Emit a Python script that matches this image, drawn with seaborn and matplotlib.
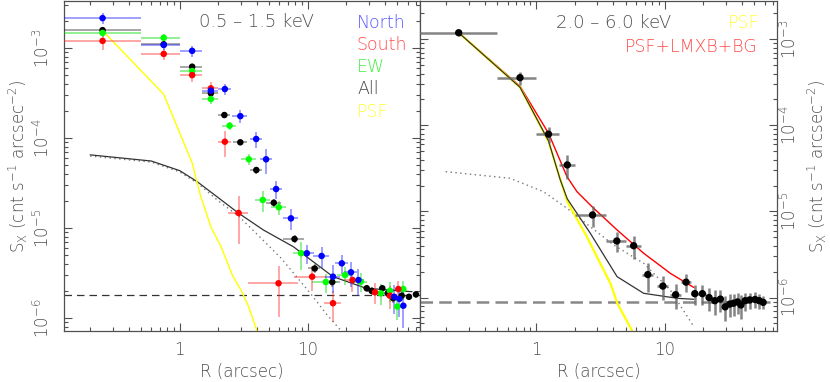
"""
Surface brightness profiles, soft band (left) and hard band (right).
Writes out.png
"""
import matplotlib
matplotlib.use("Agg")
import matplotlib.pyplot as plt
import seaborn as sns
from matplotlib.ticker import NullFormatter

sns.set_theme(style="ticks")
plt.rcParams["font.family"] = ["DejaVu Sans"]
plt.rcParams["font.weight"] = "light"
plt.rcParams["axes.labelweight"] = "light"
plt.rcParams["mathtext.fontset"] = "dejavusans"

# ---- 0.5-1.5 keV ----
r_north = [0.25, 0.75, 1.25, 1.75, 2.25, 2.97, 3.95, 4.72, 5.65, 7.38, 9.82, 12.8, 15.7, 18.4, 21.7, 24.8, 47.2, 51.7, 55.6]
sx_north = [2.15e-3, 1.08e-3, 9.3e-4, 3.36e-4, 3.5e-4, 1.75e-4, 9.75e-5, 5.8e-5, 2.71e-5, 1.28e-5, 5.24e-6,
            4.89e-6, 2.88e-6, 4.05e-6, 3.22e-6, 2.64e-6, 1.72e-6, 1.63e-6, 1.37e-6]
rerr_north = [0.25, 0.25, 0.25, 0.25, 0.25, 0.4, 0.4, 0.5, 0.6, 1.0, 1.3, 1.8, 2.0, 2.2, 2.5, 2.5, 3, 3, 3]
sxerr_north = [3e-4, 1.3e-4, 1.3e-4, 5e-5, 5e-5, 3e-5, 2e-5, 1.8e-5, 6e-6, 3.3e-6, 1.3e-6, 1.3e-6, 1.0e-6,
               1.0e-6, 1.0e-6, 0.9e-6, 0.6e-6, 0.6e-6, 0.6e-6]

r_south = [0.25, 0.75, 1.25, 1.75, 2.25, 2.88, 5.9, 10.8, 15.7, 22.3, 33.4, 43.7, 50.8]
sx_south = [1.2e-3, 8.6e-4, 5.0e-4, 3.56e-4, 9.1e-5, 1.47e-5, 2.43e-6, 2.88e-6, 1.46e-6, 2.64e-6, 1.93e-6, 1.77e-6, 2.10e-6]
rerr_south = [0.25, 0.25, 0.25, 0.25, 0.25, 0.5, 2.5, 3.0, 2.4, 3.0, 3.0, 3.0, 3.0]
sxerr_south = [2.5e-4, 1.2e-4, 0.8e-4, 0.6e-4, 3e-5, 8e-6, 1.4e-6, 0.9e-6, 0.55e-6, 0.7e-6, 0.5e-6, 0.5e-6, 0.5e-6]

r_ew = [0.25, 0.75, 1.25, 1.75, 2.45, 3.46, 4.45, 5.93, 8.87, 13.8, 19.5, 25.9, 37.0, 43.7, 49.9, 55.6]
sx_ew = [1.47e-3, 1.3e-3, 5.55e-4, 2.71e-4, 1.37e-4, 5.8e-5, 2.05e-5, 1.70e-5, 5.24e-6, 2.51e-6, 3.0e-6,
         2.53e-6, 1.88e-6, 2.01e-6, 1.34e-6, 2.10e-6]
rerr_ew = [0.25, 0.25, 0.25, 0.25, 0.3, 0.45, 0.6, 0.8, 1.2, 3.0, 2.5, 3, 3, 3, 3, 3]
sxerr_ew = [1.5e-4, 1.3e-4, 6e-5, 3e-5, 1.5e-5, 8e-6, 5.5e-6, 3e-6, 1.8e-6, 0.6e-6, 0.7e-6, 0.6e-6,
            0.5e-6, 0.5e-6, 0.4e-6, 0.5e-6]

r_all = [0.25, 0.75, 1.25, 1.75, 2.23, 2.97, 3.96, 5.42, 7.87, 11.3, 15.5, 28.8, 31.5, 38.1, 42.0, 46.4, 54.0, 61.5, 69.7]
sx_all = [1.58e-3, 1.1e-3, 6.2e-4, 3.14e-4, 1.80e-4, 8.96e-5, 4.41e-5, 1.91e-5, 7.55e-6, 3.55e-6, 2.51e-6,
          2.14e-6, 2.0e-6, 2.14e-6, 1.88e-6, 1.66e-6, 1.77e-6, 1.72e-6, 1.83e-6]
rerr_all = [0.25, 0.25, 0.25, 0.25, 0.25, 0.35, 0.45, 0.7, 1.5, 1.2, 2.2, 2, 2, 2, 2, 2, 2.5, 3, 3]
sxerr_all = [1e-4, 8e-5, 5e-5, 2.5e-5, 1.3e-5, 6e-6, 4e-6, 2e-6, 8e-7, 4e-7, 3e-7, 2e-7, 2e-7, 2e-7,
             2e-7, 2e-7, 2e-7, 1.5e-7, 1.5e-7]

r_psf_soft = [0.25, 0.75, 1.25, 1.45, 1.75, 2.1, 2.6, 3.0, 3.45, 4.1]
sx_psf_soft = [1.56e-3, 3.06e-4, 5.3e-5, 2.3e-5, 1.03e-5, 6.2e-6, 2.9e-6, 2.05e-6, 1.34e-6, 6.5e-7]

r_model_soft = [0.2, 0.6, 1.0, 1.37, 2.08, 2.88, 4.5, 7.7, 15.7, 28.5, 65]
sx_model_soft = [6.5e-5, 5.55e-5, 4.34e-5, 3.27e-5, 2.08e-5, 1.46e-5, 9.5e-6, 6.2e-6, 2.88e-6, 2.14e-6, 1.96e-6]

r_lmxb_soft = [0.2, 0.6, 1.0, 1.4, 2.0, 2.9, 4.2, 6.2, 10.4, 14.0, 18.2]
sx_lmxb_soft = [6.3e-5, 5.4e-5, 4.2e-5, 3.1e-5, 2.0e-5, 1.34e-5, 8.0e-6, 4.6e-6, 1.9e-6, 1.1e-6, 7.2e-7]

bg_soft = 1.8e-6

# ---- 2.0-6.0 keV ----
r_hard = [0.25, 0.75, 1.25, 1.75, 2.75, 4.25, 5.75, 7.41, 9.7, 12.2, 14.7, 17.2, 19.7, 22.2, 24.6, 27.2,
          29.6, 32.2, 34.4, 37.0, 39.3, 42.4, 46.0, 50.6, 54.5, 58.5]
sx_hard = [1.19e-3, 3.58e-4, 7.9e-5, 3.47e-5, 9.1e-6, 4.54e-6, 4.0e-6, 1.85e-6, 1.36e-6, 1.08e-6, 1.51e-6,
           1.11e-6, 1.11e-6, 1.0e-6, 9.2e-7, 9.6e-7, 7.8e-7, 8.4e-7, 8.6e-7, 8.9e-7, 8.2e-7, 9.2e-7, 9.4e-7,
           9.5e-7, 9.2e-7, 8.8e-7]
rerr_hard = [0.25, 0.25, 0.25, 0.25, 0.75, 0.75, 0.75, 0.75, 1.0, 1.25, 1.25, 1.25, 1.25, 1.25, 1.25, 1.25,
             1.25, 1.25, 1.25, 1.25, 1.25, 1.5, 1.5, 1.5, 1.5, 1.5]
sxerr_hard = [1.0e-4, 6e-5, 1.6e-5, 1.1e-5, 2.5e-6, 1.2e-6, 1.2e-6, 0.7e-6, 0.42e-6, 0.35e-6, 0.36e-6, 0.3e-6,
              0.3e-6, 0.3e-6, 0.3e-6, 0.28e-6, 0.25e-6, 0.25e-6, 0.25e-6, 0.25e-6, 0.25e-6, 0.22e-6, 0.2e-6,
              0.2e-6, 0.18e-6, 0.15e-6]

r_psf_hard = [0.25, 0.75, 1.25, 1.75, 2.5, 3.8, 4.3, 5.6]
sx_psf_hard = [1.19e-3, 2.77e-4, 6.5e-5, 1.3e-5, 5.0e-6, 1.45e-6, 8.5e-7, 4.1e-7]

r_psfbg_hard = [0.25, 0.75, 1.25, 1.54, 1.75, 2.64, 4.27, 6.88, 12.6, 16.9]
sx_psfbg_hard = [1.19e-3, 2.77e-4, 6.6e-5, 2.35e-5, 1.4e-5, 5.6e-6, 1.75e-6, 1.12e-6, 9.8e-7, 9.55e-7]

r_full_hard = [0.25, 0.75, 1.25, 1.74, 2.08, 2.72, 4.27, 6.88, 11.1, 16.9]
sx_full_hard = [1.19e-3, 2.85e-4, 8.1e-5, 2.54e-5, 1.7e-5, 1.14e-5, 6.1e-6, 3.27e-6, 1.91e-6, 1.31e-6]

r_lmxb_hard = [0.198, 0.626, 1.14, 1.74, 2.64, 4.02, 6.88, 11.1, 16.9]
sx_lmxb_hard = [2.9e-5, 2.43e-5, 1.70e-5, 1.09e-5, 6.65e-6, 4.08e-6, 2.5e-6, 1.22e-6, 4.6e-7]

bg_hard = 9.0e-7

YLABEL = r"S$_{\rm X}$ (cnt s$^{-1}$ arcsec$^{-2}$)"
TXT = "#505050"


def style_axis(ax, ylim, side):
    ax.set_xscale("log")
    ax.set_yscale("log")
    ax.set_xlim(0.125, 75)
    ax.set_ylim(*ylim)
    ax.set_xticks([1, 10])
    ax.set_xticklabels(["1", "10"])
    ax.xaxis.set_minor_formatter(NullFormatter())
    ax.set_yticks([1e-6, 1e-5, 1e-4, 1e-3])
    ax.set_yticklabels([r"$10^{-6}$", r"$10^{-5}$", r"$10^{-4}$", r"$10^{-3}$"],
                       rotation=90, va="center")
    ax.yaxis.set_minor_formatter(NullFormatter())
    ax.tick_params(which="both", direction="in", top=True, right=True, left=True,
                   colors=TXT, labelsize=12, width=0.8)
    ax.tick_params(which="major", length=6)
    ax.tick_params(which="minor", length=3)
    ax.tick_params(axis="x", pad=7)
    if side == "right":
        ax.tick_params(axis="y", labelleft=False, labelright=True, pad=2)
        ax.yaxis.set_label_position("right")
        ax.set_ylabel(YLABEL, color=TXT, fontsize=12, rotation=90, labelpad=4)
    else:
        ax.tick_params(axis="y", pad=8)
        ax.set_ylabel(YLABEL, color=TXT, fontsize=12, labelpad=2)
    ax.set_xlabel("R (arcsec)", color=TXT, fontsize=12, labelpad=3)
    for s in ax.spines.values():
        s.set_color(TXT)
        s.set_linewidth(0.9)


def points(ax, r, sx, rerr, sxerr, color, ecolor, ms=22, elw=1.2, ealpha=0.5):
    ax.errorbar(r, sx, xerr=rerr, yerr=sxerr, fmt="none", ecolor=ecolor,
                elinewidth=elw, alpha=ealpha, capsize=0, zorder=3)
    sns.scatterplot(x=r, y=sx, ax=ax, color=color, s=ms, edgecolor="none",
                    linewidth=0, zorder=4)


fig = plt.figure(figsize=(8.3, 3.82), dpi=100)
ax1 = fig.add_axes([64 / 830, 51 / 382, 356 / 830, 330 / 382])
ax2 = fig.add_axes([420 / 830, 51 / 382, 357 / 830, 330 / 382])
for ax in (ax1, ax2):
    ax.set_xscale("log")
    ax.set_yscale("log")

# left panel
ax1.axhline(bg_soft, color="#333333", lw=0.9, ls=(0, (6, 4)), zorder=1)
sns.lineplot(x=r_lmxb_soft, y=sx_lmxb_soft, ax=ax1, color="#777777", lw=1.0,
             ls=(0, (1, 2.5)), sort=False, estimator=None, zorder=2)
sns.lineplot(x=r_model_soft, y=sx_model_soft, ax=ax1, color="#333333", lw=0.9,
             sort=False, estimator=None, zorder=2)
sns.lineplot(x=r_psf_soft, y=sx_psf_soft, ax=ax1, color="#ffff00", lw=1.0,
             sort=False, estimator=None, zorder=2)
points(ax1, r_all, sx_all, rerr_all, sxerr_all, "black", "#333333")
points(ax1, r_ew, sx_ew, rerr_ew, sxerr_ew, "#00ff00", "#00dd00")
points(ax1, r_south, sx_south, rerr_south, sxerr_south, "red", "#ff3030")
points(ax1, r_north, sx_north, rerr_north, sxerr_north, "blue", "#2020ff")

ax1.text(0.542, 0.936, "0.5 – 1.5 keV", transform=ax1.transAxes, ha="center",
         va="center", fontsize=13, color=TXT)
for label, col, yy in [("North", "#5555ff", 0.932), ("South", "#ff4a4a", 0.867),
                       ("EW", "#44ee44", 0.801), ("All", "#444444", 0.732),
                       ("PSF", "#ffff33", 0.665)]:
    ax1.text(0.823, yy, label, transform=ax1.transAxes, ha="left", va="center",
             fontsize=12.5, color=col)
style_axis(ax1, (7.17e-7, 3.33e-3), "left")

# right panel
ax2.axhline(bg_hard, color="#888888", lw=1.8, ls=(0, (5, 2.5)), zorder=1)
sns.lineplot(x=r_lmxb_hard, y=sx_lmxb_hard, ax=ax2, color="#777777", lw=1.0,
             ls=(0, (1, 2.5)), sort=False, estimator=None, zorder=2)
sns.lineplot(x=r_full_hard, y=sx_full_hard, ax=ax2, color="#ff0000", lw=1.0,
             sort=False, estimator=None, zorder=2)
sns.lineplot(x=r_psf_hard, y=sx_psf_hard, ax=ax2, color="#ffff00", lw=1.6,
             sort=False, estimator=None, zorder=2)
sns.lineplot(x=r_psfbg_hard, y=sx_psfbg_hard, ax=ax2, color="#333333", lw=0.9,
             sort=False, estimator=None, zorder=2)
points(ax2, r_hard, sx_hard, rerr_hard, sxerr_hard, "black", "#666666",
       ms=28, elw=1.8, ealpha=0.8)

ax2.text(0.542, 0.934, "2.0 – 6.0 keV", transform=ax2.transAxes, ha="center",
         va="center", fontsize=13, color=TXT)
ax2.text(0.950, 0.933, "PSF", transform=ax2.transAxes, ha="right", va="center",
         fontsize=12.5, color="#ffff33")
ax2.text(0.947, 0.862, "PSF+LMXB+BG", transform=ax2.transAxes, ha="right",
         va="center", fontsize=12.5, color="#ff4a4a")
style_axis(ax2, (4.09e-7, 2.78e-3), "right")

fig.savefig("out.png", dpi=100)
